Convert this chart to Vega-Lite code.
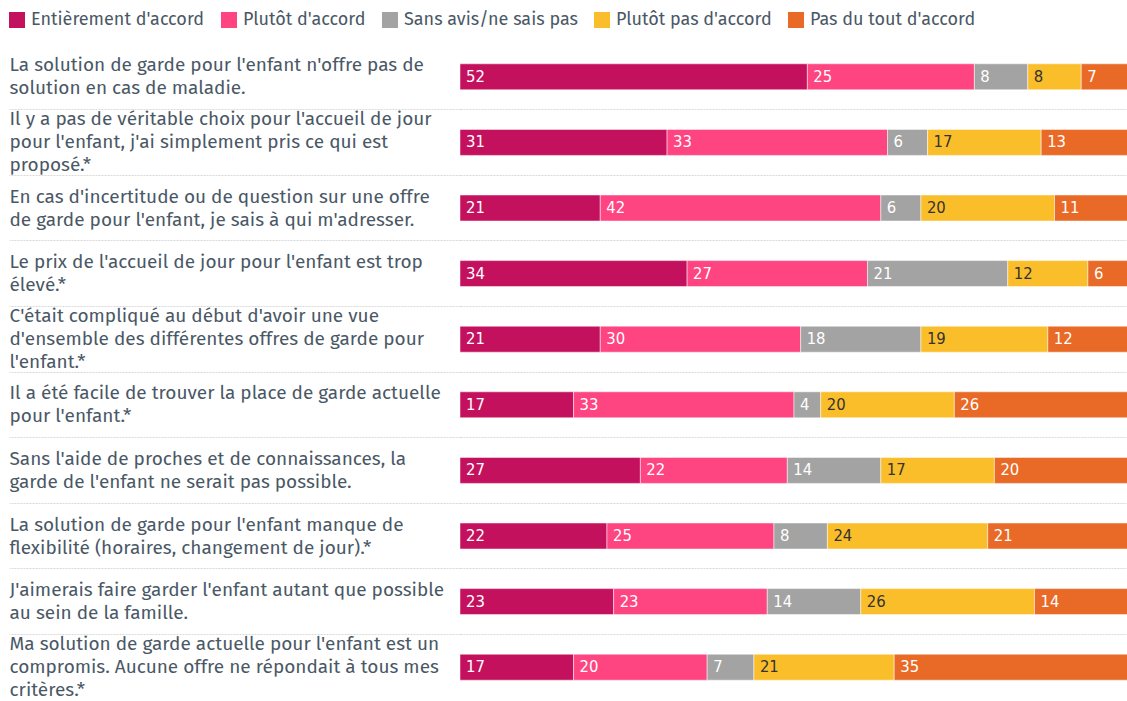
{
  "$schema": "https://vega.github.io/schema/vega-lite/v6.json",
  "width": 668,
  "height": 656,
  "padding": {"left": 8, "top": 11, "right": 0, "bottom": 0},
  "background": "white",
  "config": {"view": {"stroke": null}, "font": "Fira Sans, Noto Sans"},
  "data": {"values": [
    {"q": "La solution de garde pour l'enfant n'offre pas de|solution en cas de maladie.", "cat": "Entièrement d'accord", "k": 0, "v": 52},
    {"q": "La solution de garde pour l'enfant n'offre pas de|solution en cas de maladie.", "cat": "Plutôt d'accord", "k": 1, "v": 25},
    {"q": "La solution de garde pour l'enfant n'offre pas de|solution en cas de maladie.", "cat": "Sans avis/ne sais pas", "k": 2, "v": 8},
    {"q": "La solution de garde pour l'enfant n'offre pas de|solution en cas de maladie.", "cat": "Plutôt pas d'accord", "k": 3, "v": 8},
    {"q": "La solution de garde pour l'enfant n'offre pas de|solution en cas de maladie.", "cat": "Pas du tout d'accord", "k": 4, "v": 7},
    {"q": "Il y a pas de véritable choix pour l'accueil de jour|pour l'enfant, j'ai simplement pris ce qui est|proposé.*", "cat": "Entièrement d'accord", "k": 0, "v": 31},
    {"q": "Il y a pas de véritable choix pour l'accueil de jour|pour l'enfant, j'ai simplement pris ce qui est|proposé.*", "cat": "Plutôt d'accord", "k": 1, "v": 33},
    {"q": "Il y a pas de véritable choix pour l'accueil de jour|pour l'enfant, j'ai simplement pris ce qui est|proposé.*", "cat": "Sans avis/ne sais pas", "k": 2, "v": 6},
    {"q": "Il y a pas de véritable choix pour l'accueil de jour|pour l'enfant, j'ai simplement pris ce qui est|proposé.*", "cat": "Plutôt pas d'accord", "k": 3, "v": 17},
    {"q": "Il y a pas de véritable choix pour l'accueil de jour|pour l'enfant, j'ai simplement pris ce qui est|proposé.*", "cat": "Pas du tout d'accord", "k": 4, "v": 13},
    {"q": "En cas d'incertitude ou de question sur une offre|de garde pour l'enfant, je sais à qui m'adresser.", "cat": "Entièrement d'accord", "k": 0, "v": 21},
    {"q": "En cas d'incertitude ou de question sur une offre|de garde pour l'enfant, je sais à qui m'adresser.", "cat": "Plutôt d'accord", "k": 1, "v": 42},
    {"q": "En cas d'incertitude ou de question sur une offre|de garde pour l'enfant, je sais à qui m'adresser.", "cat": "Sans avis/ne sais pas", "k": 2, "v": 6},
    {"q": "En cas d'incertitude ou de question sur une offre|de garde pour l'enfant, je sais à qui m'adresser.", "cat": "Plutôt pas d'accord", "k": 3, "v": 20},
    {"q": "En cas d'incertitude ou de question sur une offre|de garde pour l'enfant, je sais à qui m'adresser.", "cat": "Pas du tout d'accord", "k": 4, "v": 11},
    {"q": "Le prix de l'accueil de jour pour l'enfant est trop|élevé.*", "cat": "Entièrement d'accord", "k": 0, "v": 34},
    {"q": "Le prix de l'accueil de jour pour l'enfant est trop|élevé.*", "cat": "Plutôt d'accord", "k": 1, "v": 27},
    {"q": "Le prix de l'accueil de jour pour l'enfant est trop|élevé.*", "cat": "Sans avis/ne sais pas", "k": 2, "v": 21},
    {"q": "Le prix de l'accueil de jour pour l'enfant est trop|élevé.*", "cat": "Plutôt pas d'accord", "k": 3, "v": 12},
    {"q": "Le prix de l'accueil de jour pour l'enfant est trop|élevé.*", "cat": "Pas du tout d'accord", "k": 4, "v": 6},
    {"q": "C'était compliqué au début d'avoir une vue|d'ensemble des différentes offres de garde pour|l'enfant.*", "cat": "Entièrement d'accord", "k": 0, "v": 21},
    {"q": "C'était compliqué au début d'avoir une vue|d'ensemble des différentes offres de garde pour|l'enfant.*", "cat": "Plutôt d'accord", "k": 1, "v": 30},
    {"q": "C'était compliqué au début d'avoir une vue|d'ensemble des différentes offres de garde pour|l'enfant.*", "cat": "Sans avis/ne sais pas", "k": 2, "v": 18},
    {"q": "C'était compliqué au début d'avoir une vue|d'ensemble des différentes offres de garde pour|l'enfant.*", "cat": "Plutôt pas d'accord", "k": 3, "v": 19},
    {"q": "C'était compliqué au début d'avoir une vue|d'ensemble des différentes offres de garde pour|l'enfant.*", "cat": "Pas du tout d'accord", "k": 4, "v": 12},
    {"q": "Il a été facile de trouver la place de garde actuelle|pour l'enfant.*", "cat": "Entièrement d'accord", "k": 0, "v": 17},
    {"q": "Il a été facile de trouver la place de garde actuelle|pour l'enfant.*", "cat": "Plutôt d'accord", "k": 1, "v": 33},
    {"q": "Il a été facile de trouver la place de garde actuelle|pour l'enfant.*", "cat": "Sans avis/ne sais pas", "k": 2, "v": 4},
    {"q": "Il a été facile de trouver la place de garde actuelle|pour l'enfant.*", "cat": "Plutôt pas d'accord", "k": 3, "v": 20},
    {"q": "Il a été facile de trouver la place de garde actuelle|pour l'enfant.*", "cat": "Pas du tout d'accord", "k": 4, "v": 26},
    {"q": "Sans l'aide de proches et de connaissances, la|garde de l'enfant ne serait pas possible.", "cat": "Entièrement d'accord", "k": 0, "v": 27},
    {"q": "Sans l'aide de proches et de connaissances, la|garde de l'enfant ne serait pas possible.", "cat": "Plutôt d'accord", "k": 1, "v": 22},
    {"q": "Sans l'aide de proches et de connaissances, la|garde de l'enfant ne serait pas possible.", "cat": "Sans avis/ne sais pas", "k": 2, "v": 14},
    {"q": "Sans l'aide de proches et de connaissances, la|garde de l'enfant ne serait pas possible.", "cat": "Plutôt pas d'accord", "k": 3, "v": 17},
    {"q": "Sans l'aide de proches et de connaissances, la|garde de l'enfant ne serait pas possible.", "cat": "Pas du tout d'accord", "k": 4, "v": 20},
    {"q": "La solution de garde pour l'enfant manque de|flexibilité (horaires, changement de jour).*", "cat": "Entièrement d'accord", "k": 0, "v": 22},
    {"q": "La solution de garde pour l'enfant manque de|flexibilité (horaires, changement de jour).*", "cat": "Plutôt d'accord", "k": 1, "v": 25},
    {"q": "La solution de garde pour l'enfant manque de|flexibilité (horaires, changement de jour).*", "cat": "Sans avis/ne sais pas", "k": 2, "v": 8},
    {"q": "La solution de garde pour l'enfant manque de|flexibilité (horaires, changement de jour).*", "cat": "Plutôt pas d'accord", "k": 3, "v": 24},
    {"q": "La solution de garde pour l'enfant manque de|flexibilité (horaires, changement de jour).*", "cat": "Pas du tout d'accord", "k": 4, "v": 21},
    {"q": "J'aimerais faire garder l'enfant autant que possible|au sein de la famille.", "cat": "Entièrement d'accord", "k": 0, "v": 23},
    {"q": "J'aimerais faire garder l'enfant autant que possible|au sein de la famille.", "cat": "Plutôt d'accord", "k": 1, "v": 23},
    {"q": "J'aimerais faire garder l'enfant autant que possible|au sein de la famille.", "cat": "Sans avis/ne sais pas", "k": 2, "v": 14},
    {"q": "J'aimerais faire garder l'enfant autant que possible|au sein de la famille.", "cat": "Plutôt pas d'accord", "k": 3, "v": 26},
    {"q": "J'aimerais faire garder l'enfant autant que possible|au sein de la famille.", "cat": "Pas du tout d'accord", "k": 4, "v": 14},
    {"q": "Ma solution de garde actuelle pour l'enfant est un|compromis. Aucune offre ne répondait à tous mes|critères.*", "cat": "Entièrement d'accord", "k": 0, "v": 17},
    {"q": "Ma solution de garde actuelle pour l'enfant est un|compromis. Aucune offre ne répondait à tous mes|critères.*", "cat": "Plutôt d'accord", "k": 1, "v": 20},
    {"q": "Ma solution de garde actuelle pour l'enfant est un|compromis. Aucune offre ne répondait à tous mes|critères.*", "cat": "Sans avis/ne sais pas", "k": 2, "v": 7},
    {"q": "Ma solution de garde actuelle pour l'enfant est un|compromis. Aucune offre ne répondait à tous mes|critères.*", "cat": "Plutôt pas d'accord", "k": 3, "v": 21},
    {"q": "Ma solution de garde actuelle pour l'enfant est un|compromis. Aucune offre ne répondait à tous mes|critères.*", "cat": "Pas du tout d'accord", "k": 4, "v": 35}
  ]},
  "transform": [
    {"stack": "v", "groupby": ["q"], "sort": [{"field": "k", "order": "ascending"}], "as": ["x0", "x1"]}
  ],
  "encoding": {
    "y": {
      "field": "q", "type": "nominal", "sort": null,
      "scale": {"paddingInner": 0, "paddingOuter": 0},
      "axis": {
        "title": null,
        "domain": false,
        "labelExpr": "split(datum.label, '|')",
        "labelAlign": "left",
        "labelBaseline": "middle",
        "labelPadding": 0,
        "labelLimit": 0,
        "labelFontSize": 19,
        "labelLineHeight": 23,
        "labelColor": "#4a5866",
        "labelFont": "Fira Sans, Noto Sans",
        "labelOffset": {"condition": {"test": "length(split(datum.label, '|')) === 3", "value": -23}, "value": -11.5},
        "bandPosition": 0,
        "ticks": true,
        "tickSize": 451,
        "tickColor": "#d9d9d9",
        "tickDash": [2, 1],
        "tickOpacity": {"condition": {"test": "datum.index === 0", "value": 0}, "value": 1},
        "grid": true,
        "gridColor": "#d9d9d9",
        "gridDash": [2, 1],
        "gridOpacity": {"condition": {"test": "datum.index === 0", "value": 0}, "value": 1}
      }
    }
  },
  "layer": [
    {
      "mark": {"type": "bar", "size": 26, "stroke": "white", "strokeWidth": 0.5},
      "encoding": {
        "x": {"field": "x0", "type": "quantitative", "scale": {"domain": [0, 100], "nice": false}, "axis": null},
        "x2": {"field": "x1"},
        "color": {
          "field": "cat", "type": "nominal",
          "scale": {
            "domain": ["Entièrement d'accord", "Plutôt d'accord", "Sans avis/ne sais pas", "Plutôt pas d'accord", "Pas du tout d'accord"],
            "range": ["#c4115e", "#fe4481", "#a3a3a3", "#fbbe2b", "#e86a26"]
          },
          "legend": {
            "title": null,
            "orient": "none",
            "legendX": -452,
            "legendY": -33,
            "direction": "horizontal",
            "symbolType": "square",
            "symbolSize": 256,
            "symbolStrokeWidth": 0,
            "labelFontSize": 18,
            "labelColor": "#4a5866",
            "labelFont": "Fira Sans, Noto Sans",
            "labelOffset": 5,
            "columnPadding": 15,
            "labelLimit": 0
          }
        }
      }
    },
    {
      "mark": {"type": "text", "align": "left", "baseline": "middle", "dx": 6, "fontSize": 16.5, "font": "Liberation Sans Narrow, DejaVu Sans Condensed"},
      "encoding": {
        "x": {"field": "x0", "type": "quantitative"},
        "text": {"field": "v", "type": "quantitative"},
        "color": {"condition": {"test": "datum.k === 3", "value": "#333333"}, "value": "white"}
      }
    }
  ]
}
